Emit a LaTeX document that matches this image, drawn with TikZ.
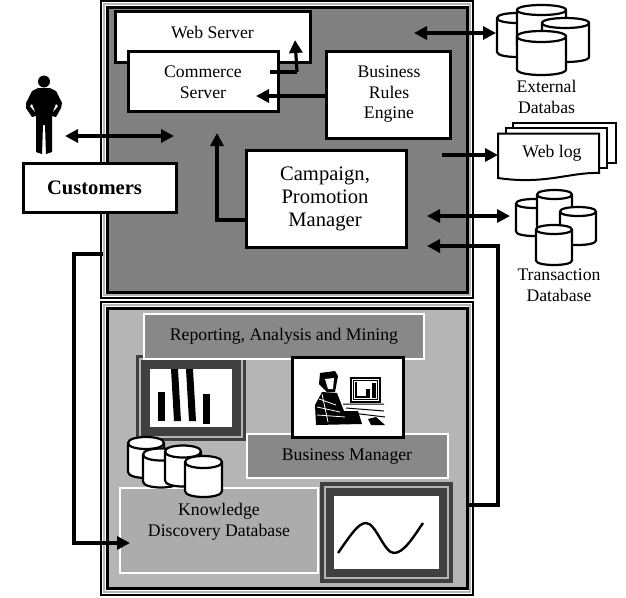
\documentclass[tikz,border=0pt]{standalone}
\usepackage{fontspec}
\setmainfont{Liberation Serif}
\usetikzlibrary{arrows.meta}

\definecolor{darkpanel}{gray}{0.5}
\definecolor{lightpanel}{gray}{0.71}
\definecolor{framegray}{gray}{0.25}

\tikzset{
  label text/.style={font=\fontsize{17.7}{20.5}\selectfont, align=center, inner sep=0pt},
  big text/.style={font=\fontsize{20.6}{23}\selectfont, align=center, inner sep=0pt},
  whitebox/.style={draw=black, line width=3pt, fill=white, inner sep=0pt},
  graybox/.style={draw=white, line width=1.6pt, fill=darkpanel!85!lightpanel, inner sep=0pt},
  lightbox/.style={draw=white, line width=1.6pt, fill=lightpanel!95!black, inner sep=0pt},
  screen/.style={draw=framegray, line width=3pt, fill=framegray, inner sep=0pt},
  screen ring/.style={draw=lightpanel, line width=1.2pt},
  link/.style={line width=3.2pt, draw=black},
  onetip/.style={link, -{Triangle[length=13pt,width=13pt]}},
  bothtips/.style={link, {Triangle[length=13pt,width=13pt]}-{Triangle[length=13pt,width=13pt]}},
  % width, height, end radius
  pics/dbcan/.style n args={3}{code={
    \draw[line width=2.2pt, fill=white] ({-#1/2},{-#2/2+#3}) -- ({-#1/2},{#2/2-#3})
      .. controls ({-#1/2},{#2/2+#3/3}) and ({#1/2},{#2/2+#3/3}) .. ({#1/2},{#2/2-#3})
      -- ({#1/2},{-#2/2+#3})
      .. controls ({#1/2},{-#2/2-#3/3}) and ({-#1/2},{-#2/2-#3/3}) .. cycle;
    \draw[line width=2.2pt] ({-#1/2},{-#2/2+#3})
      .. controls ({-#1/2},{-#2/2+#3+4*#3/3}) and ({#1/2},{-#2/2+#3+4*#3/3}) .. ({#1/2},{-#2/2+#3});
  }},
}

\begin{document}
\begin{tikzpicture}[x=1pt, y=-1pt]

\def \xouterl {101}
\def \xouterr {473}
\def \xinnerl {107.5}
\def \xinnerr {467}

\useasboundingbox (0,0) rectangle (626,597);
\fill[white] (0,0) rectangle (626,597);

% upper panel
\draw[line width=2pt, fill=white] (\xouterl,1) rectangle (\xouterr,297.5);
\draw[line width=1.4pt, draw=lightpanel] (104,4) rectangle (470,295);
\draw[line width=3pt, fill=darkpanel] (\xinnerl,7.5) rectangle (\xinnerr,292.5);
% lower panel
\draw[line width=2pt, fill=white] (\xouterl,302) rectangle (\xouterr,595);
\draw[line width=1.4pt, draw=lightpanel] (104,305) rectangle (470,592);
\draw[line width=3pt, fill=lightpanel] (\xinnerl,308) rectangle (\xinnerr,588);

% upper boxes
\node[whitebox, minimum width=195, minimum height=51] (web) at (213,37) {};
\node[label text] (webtext) at (212.5,32) {Web Server};
\node[whitebox, minimum width=150, minimum height=60] (commerce) at (203,81) {};
\node[label text] (commercetext) at (203,82) {Commerce\\Server};
\node[whitebox, minimum width=124, minimum height=87] (rules) at (388,95) {};
\node[label text] (rulestext) at (389,94.5) {Business\\Rules\\Engine};
\node[whitebox, minimum width=160, minimum height=97] (campaign) at (326,198.5) {};
\node[big text] (campaigntext) at (325,199) {Campaign,\\Promotion\\Manager};

% customer
\node[whitebox, minimum width=153, minimum height=49] (customers) at (99.5,187.5) {};
\node[big text, font=\fontsize{20.6}{23}\selectfont\bfseries] (customerstext) at (94.5,187.5) {Customers};
\fill[black] (38,88) -- (50,88) -- (56,91) -- (62,103) -- (61,108) -- (56,117) -- (52,116)
  -- (52,152) -- (46,154) -- (45,125) -- (43,125) -- (42,154) -- (36,152) -- (36,116) -- (32,117)
  -- (26,108) -- (26,103) -- (32,91) -- cycle;
\fill[black] (44,81.5) circle (6);
\fill[white] (32,104) -- (35,112) -- (30,106) -- cycle;
\fill[white] (56,104) -- (53,112) -- (58,106) -- cycle;

% external databases
\pic (exta) at (517,35) {dbcan={40}{44}{5}};
\pic (extb) at (541.5,28) {dbcan={49}{46}{5}};
\pic (extc) at (565.5,40) {dbcan={47}{44}{5}};
\pic (extd) at (541.5,53) {dbcan={49}{44}{5.5}};
\node[label text] (exttext) at (546.5,97) {External\\Databas};

% web log
\draw[line width=2pt, fill=white] (513,123) rectangle (616,163);
\draw[line width=2pt, fill=white] (506,128) rectangle (607,168);
\draw[line width=2pt, fill=white] (498,133.5) -- (599,133.5) -- (599,173)
  .. controls (570,172) and (545,185) .. (498,178) -- cycle;
\node[label text] (weblog) at (552,153) {Web log};

% transaction database
\pic (trana) at (534,217.5) {dbcan={36}{37}{4.5}};
\pic (tranb) at (554.5,211) {dbcan={35}{42}{4.5}};
\pic (tranc) at (578,226) {dbcan={36}{38}{4.5}};
\pic (trand) at (554,245) {dbcan={36}{40}{4.5}};
\node[label text] (trantext) at (559,285) {Transaction\\Database};

% bar chart
\node[screen, minimum width=107, minimum height=83] (chart) at (191,398) {};
\draw[screen ring] (140,359) rectangle (242,437);
\fill[white] (150,369) rectangle (232,427);
\fill[black] (158,392) rectangle (165,421);
\fill[black] (171,369) -- (178,369) -- (181,421) -- (174,421) -- cycle;
\fill[black] (186,369) -- (193,369) -- (196,421) -- (189,421) -- cycle;
\fill[black] (203,394) rectangle (210,424);

% lower boxes
\node[graybox, minimum width=280, minimum height=45] (reporting) at (284,336.5) {};
\node[label text] (reportingtext) at (284,336) {Reporting, Analysis and Mining};
\node[lightbox, minimum width=198, minimum height=85] (kdb) at (219,530.5) {};
\node[label text] (kdbtext) at (219,522) {Knowledge\\Discovery Database};

% kdb cylinders
\pic (kdba) at (146,457.5) {dbcan={36}{41}{6}};
\pic (kdbb) at (161,468) {dbcan={36}{39}{6}};
\pic (kdbc) at (183,466) {dbcan={36}{41}{6}};
\pic (kdbd) at (203.5,476.5) {dbcan={37}{41}{6}};

% business manager
\node[graybox, minimum width=201, minimum height=44] (manager) at (347.5,456) {};
\node[label text] (managertext) at (347,457) {Business Manager};
\node[whitebox, minimum width=111, minimum height=80] (photo) at (348,397.5) {};
% man at the computer
\fill[black] (320,373) -- (335,371) -- (338,376) -- (335,392) -- (327,392) -- (319,384) -- cycle;
\fill[white] (325,379) -- (334,378) -- (333,389) -- (328,389) -- cycle;
\fill[black] (322,392) -- (337,393) -- (344,411) -- (358,411) -- (362,424) -- (316,425) -- (315,405) -- cycle;
\draw[white, line width=0.8pt] (319,399) -- (336,405) (317,407) -- (340,412) (317,415) -- (345,417) (322,394) -- (328,422);
\draw[black, line width=2pt] (350.5,378) rectangle (380,402);
\draw[black, line width=1pt] (353,380.5) rectangle (377.5,399.5);
\fill[black] (372,383) rectangle (376,398);
\fill[black] (366,389) rectangle (370,398);
\fill[black] (355,382) rectangle (357,397);
\fill[black] (355,396) rectangle (366,398);
\draw[black, line width=1pt] (343,404) -- (384,404) (346,408) -- (384,411) (352,413) -- (385,417);
\fill[black] (368,419) -- (376,417) -- (385,425) -- (371,425) -- cycle;

% curve display
\node[screen, minimum width=130, minimum height=98] (display) at (386.5,532.5) {};
\draw[screen ring] (325,487) rectangle (448,578);
\fill[white] (334,496) rectangle (439,569);
\draw[line width=2.4pt] (338,553) .. controls (350,536) and (358,523) .. (366,523)
  .. controls (376,523) and (384,553) .. (394,553) .. controls (404,553) and (414,536) .. (423,523);

% free ends of the links
\coordinate (usertip) at (65,136);
\coordinate (panelhit) at (174,136);
\coordinate (campaignup) at (217,133);
\coordinate (webhit) at (295,40);
\coordinate (commerceout) at (270,72);
\coordinate (commercein) at (256,96);
\coordinate (extin) at (414,33);
\coordinate (extdb) at (496,33);
\coordinate (logout) at (442,155);
\coordinate (tranin) at (427,216);
\coordinate (trandb) at (510,216);
\coordinate (backin) at (427,246);
\coordinate (backout) at (\xinnerr,505);
\coordinate (kdbout) at (103,254);
\coordinate (kdbin) at (130,543);

% links
\draw[bothtips] (usertip) -- (panelhit);
\draw[onetip] (campaign.west |- 0,220) -| (campaignup);
\draw[link] (commerceout) -- (297,72);
\draw[onetip] (297,72) -- (webhit);
\draw[onetip] (rules.west |- commercein) -- (commercein);
\draw[bothtips] (extin) -- (extdb);
\draw[onetip] (logout) -- (498,155);
\draw[bothtips] (tranin) -- (trandb);
\draw[onetip] (backout) -- (498,505) -- (498,246) -- (backin);
\draw[onetip] (kdbout) -- (74,254) -- (74,543) -- (kdbin);

\end{tikzpicture}
\end{document}
